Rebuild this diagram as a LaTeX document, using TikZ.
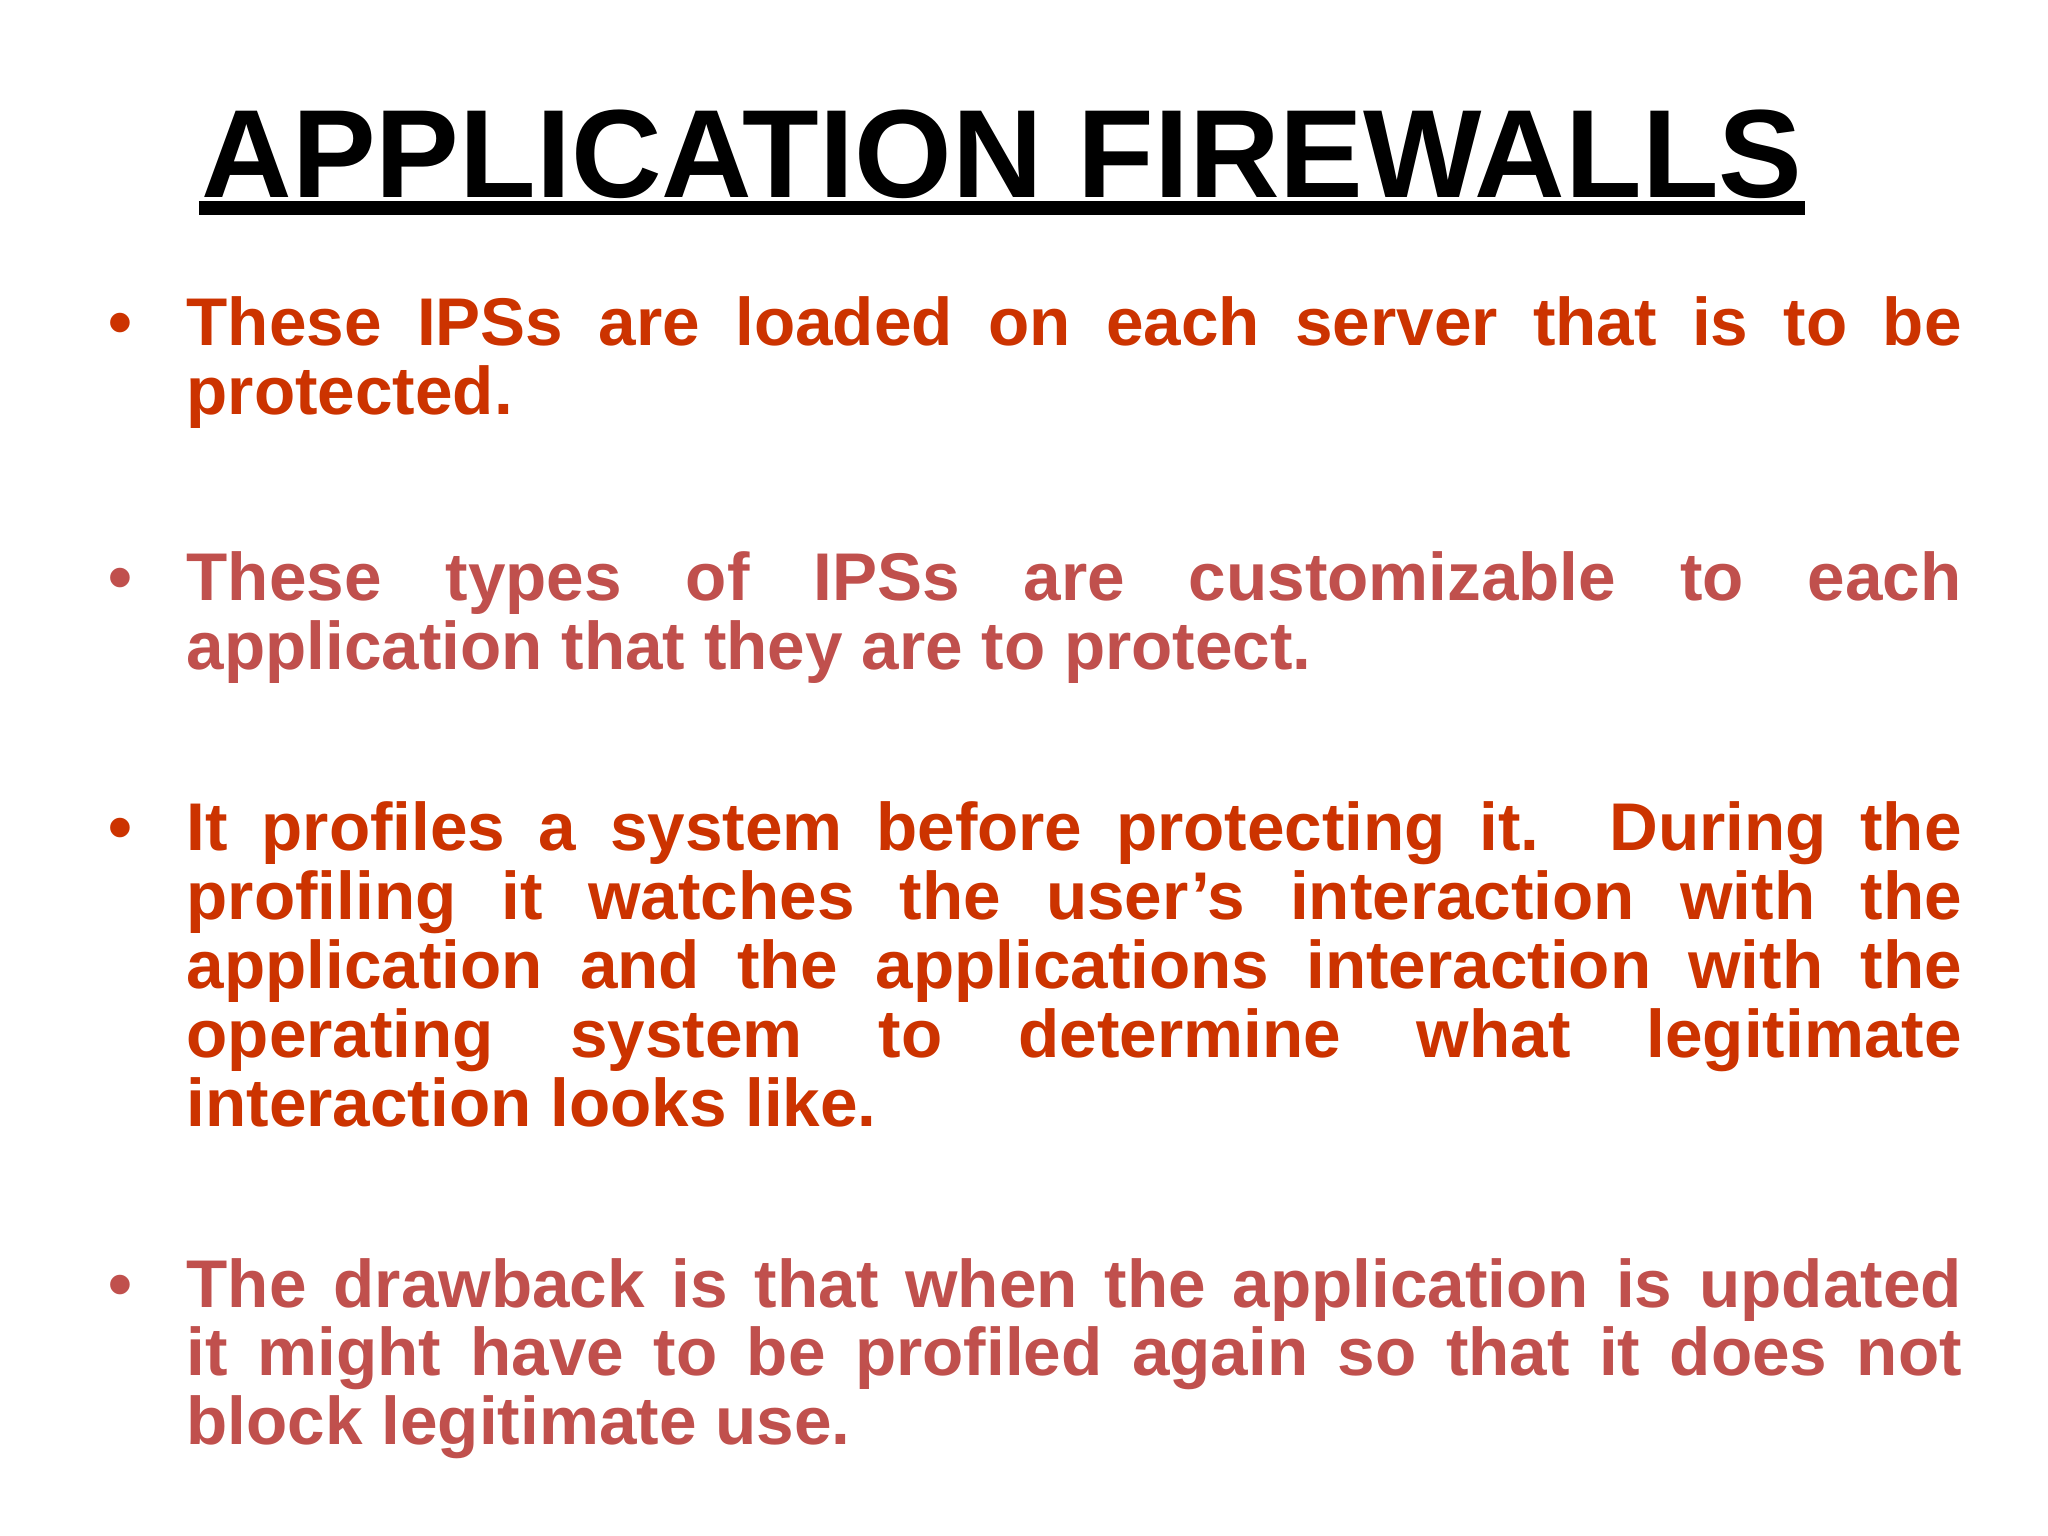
\documentclass[tikz,border=0pt]{standalone}
\usepackage{fontspec}
\setmainfont{Liberation Sans}
\usetikzlibrary{calc}
\definecolor{redA}{HTML}{CC3300}
\definecolor{redB}{HTML}{C0504D}
\newcommand{\nohyph}{\hyphenpenalty=10000\relax\exhyphenpenalty=10000\relax}
\tikzset{
 para/.style={anchor=base west,inner sep=0pt,text width=17.75cm,align=justify,font=\fontsize{19.2}{19.63}\selectfont\bfseries\nohyph},
 bul/.style={anchor=base west,inner sep=0pt,font=\fontsize{19.4}{19.63}\selectfont\bfseries}
}
\begin{document}
\begin{tikzpicture}[x=1cm,y=1cm]
\useasboundingbox[fill=white] (0,0) rectangle (20.48,-15.36);
\node[inner sep=0pt,anchor=base,font=\fontsize{35.7}{40}\selectfont\bfseries] (title) at (10.02,-1.98) {APPLICATION FIREWALLS};
\draw[line width=0.14cm] ($(title.base west)+(-0.02,-0.1)$) -- ($(title.base east)+(0.02,-0.1)$);
\node[bul,redA] (b1) at (1.08,-3.46) {•};
\node[para,redA] (p1) at (1.86,-3.46) {These IPSs are loaded on each server that is to be\linebreak protected.};
\node[bul,redB] (b2) at (1.08,-6.01) {•};
\node[para,redB] (p2) at (1.86,-6.01) {These types of IPSs are customizable to each\linebreak application that they are to protect.};
\node[bul,redA] (b3) at (1.08,-8.51) {•};
\node[para,redA] (p3) at (1.86,-8.51) {It profiles a system before protecting it. During the\linebreak profiling it watches the user’s interaction with the\linebreak application and the applications interaction with the\linebreak operating system to determine what legitimate\linebreak interaction looks like.};
\node[bul,redB] (b4) at (1.08,-13.07) {•};
\node[para,redB] (p4) at (1.86,-13.07) {The drawback is that when the application is updated\linebreak it might have to be profiled again so that it does not\linebreak block legitimate use.};
\end{tikzpicture}
\end{document}
